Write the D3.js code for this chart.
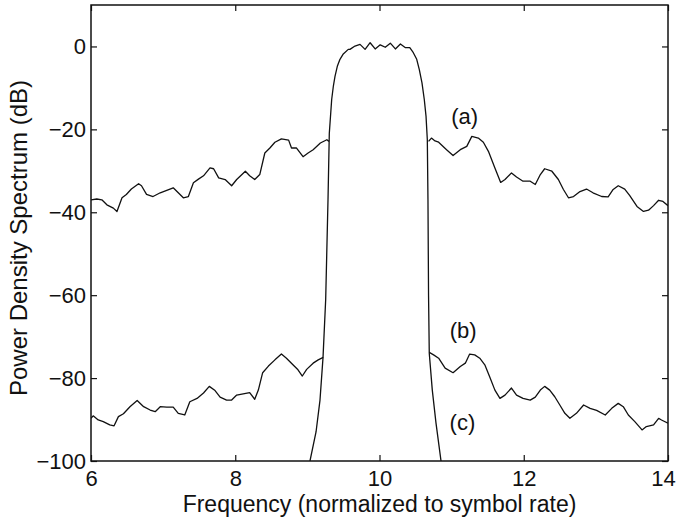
<!DOCTYPE html>
<html>
<head>
<meta charset="utf-8">
<script src="https://cdn.jsdelivr.net/npm/d3@7"></script>
<style>
  body { margin: 0; background: #fff; }
  text { font-family: "Liberation Sans", Arial, sans-serif; fill: #111; }
</style>
</head>
<body>
<svg id="chart" width="676" height="520"></svg>
<script>
// ticks
const xTicks = [6, 8, 10, 12, 14];
const yTicks = [-100, -80, -60, -40, -20, 0];

// (a) sidebands, [frequency, dB]
const aLeft = [[6.00,-37.0],[6.08,-36.8],[6.15,-37.0],[6.22,-38.2],[6.31,-39.0],[6.36,-39.8],[6.43,-36.5],[6.49,-35.7],[6.56,-34.4],[6.66,-33.1],[6.70,-33.6],[6.77,-35.7],[6.86,-36.2],[6.96,-35.3],[7.05,-34.7],[7.14,-34.1],[7.21,-35.3],[7.28,-36.5],[7.35,-36.2],[7.42,-32.9],[7.49,-32.0],[7.56,-31.2],[7.65,-29.3],[7.70,-29.5],[7.77,-31.7],[7.86,-32.1],[7.95,-33.6],[8.02,-32.1],[8.14,-30.1],[8.20,-31.2],[8.27,-32.1],[8.34,-30.9],[8.41,-25.7],[8.48,-24.5],[8.55,-23.1],[8.64,-22.3],[8.74,-22.6],[8.78,-24.5],[8.85,-24.5],[8.94,-26.6],[9.01,-25.7],[9.08,-24.9],[9.18,-23.3],[9.27,-22.5],[9.30,-22.9]];
const aRight = [[10.68,-22.9],[10.72,-22.1],[10.77,-22.8],[10.82,-23.1],[10.93,-24.9],[11.02,-26.3],[11.12,-24.9],[11.21,-24.1],[11.28,-21.7],[11.37,-22.1],[11.44,-23.1],[11.51,-25.3],[11.60,-29.3],[11.68,-32.8],[11.74,-32.1],[11.83,-30.5],[11.90,-31.5],[11.99,-32.5],[12.09,-32.5],[12.16,-33.3],[12.23,-30.9],[12.29,-29.5],[12.39,-30.1],[12.48,-32.1],[12.55,-34.5],[12.62,-36.5],[12.69,-36.2],[12.78,-35.0],[12.87,-34.4],[12.96,-35.3],[13.08,-36.2],[13.17,-36.3],[13.24,-34.5],[13.31,-33.6],[13.40,-34.4],[13.47,-36.0],[13.57,-38.6],[13.66,-39.8],[13.73,-39.5],[13.80,-38.4],[13.87,-37.1],[13.93,-37.4],[14.00,-38.4]];

// (b) sidebands
const bLeft = [[6.00,-89.7],[6.03,-89.1],[6.10,-90.1],[6.17,-90.5],[6.26,-91.3],[6.32,-91.5],[6.38,-89.3],[6.45,-88.6],[6.54,-86.9],[6.64,-85.4],[6.73,-86.9],[6.82,-87.7],[6.89,-88.1],[6.96,-86.9],[7.05,-87.0],[7.14,-87.0],[7.21,-88.5],[7.30,-88.9],[7.37,-85.7],[7.47,-84.9],[7.56,-83.6],[7.64,-82.0],[7.72,-83.0],[7.79,-84.6],[7.88,-85.3],[7.95,-85.3],[8.02,-84.1],[8.11,-83.8],[8.20,-83.5],[8.27,-85.1],[8.32,-82.9],[8.38,-78.7],[8.46,-77.1],[8.55,-75.6],[8.64,-74.2],[8.71,-75.2],[8.80,-76.8],[8.87,-78.0],[8.93,-79.5],[8.99,-77.9],[9.08,-76.4],[9.15,-75.6],[9.22,-75.0]];
const bRight = [[10.69,-73.8],[10.75,-74.4],[10.82,-75.2],[10.91,-77.6],[11.02,-78.7],[11.12,-77.2],[11.19,-76.4],[11.25,-74.2],[11.32,-74.4],[11.39,-75.2],[11.46,-76.8],[11.53,-79.8],[11.60,-82.9],[11.67,-84.9],[11.74,-84.1],[11.83,-82.4],[11.90,-84.1],[11.99,-84.9],[12.09,-85.3],[12.16,-84.6],[12.23,-82.9],[12.29,-82.0],[12.36,-82.9],[12.43,-84.5],[12.50,-86.5],[12.57,-88.5],[12.64,-89.7],[12.73,-88.5],[12.83,-86.5],[12.92,-87.3],[13.01,-87.8],[13.13,-88.9],[13.22,-87.3],[13.31,-86.1],[13.38,-86.9],[13.45,-88.9],[13.54,-90.5],[13.64,-92.5],[13.70,-91.7],[13.80,-91.3],[13.87,-89.7],[13.91,-90.1],[14.00,-90.9]];

// (c) main lobe
const cMain = [[9.036,-100],[9.12,-93.0],[9.175,-85.3],[9.217,-75.0],[9.254,-61.0],[9.286,-37.0],[9.304,-21.0],[9.337,-12.8],[9.36,-9.6],[9.383,-7.2],[9.415,-4.8],[9.452,-3.1],[9.498,-1.8],[9.567,-0.7],[9.59,-0.7],[9.66,0.1],[9.73,0.5],[9.80,-0.7],[9.87,0.9],[9.94,-0.6],[10.01,0.4],[10.08,-0.2],[10.15,0.8],[10.22,-0.6],[10.29,0.6],[10.36,-0.3],[10.42,-0.3],[10.469,-1.5],[10.516,-3.1],[10.552,-5.6],[10.589,-8.8],[10.621,-12.8],[10.645,-16.8],[10.663,-22.5],[10.672,-37.0],[10.68,-60.0],[10.69,-74.0],[10.732,-82.9],[10.783,-90.8],[10.853,-100]];

const curveLabels = [
  {text: "(a)", f: 11.18, db: -18.6},
  {text: "(b)", f: 11.16, db: -70.4},
  {text: "(c)", f: 11.15, db: -92.6}
];

const svg = d3.select("#chart");
const margin = {top: 5, right: 8, bottom: 59, left: 91};
const width = 676 - margin.left - margin.right;
const height = 520 - margin.top - margin.bottom;

const x = d3.scaleLinear().domain([6, 14]).range([0, width]);
const y = d3.scaleLinear().domain([-100, 10]).range([height, 0]);

const g = svg.append("g").attr("transform", `translate(${margin.left},${margin.top})`);

g.append("clipPath").attr("id", "clip")
  .append("rect").attr("width", width).attr("height", height);

// axes, ticks pointing inward on all four sides
const axBottom = g.append("g").attr("transform", `translate(0,${height})`)
  .call(d3.axisBottom(x).tickValues(xTicks).tickSize(-6).tickPadding(9));
const axTop = g.append("g")
  .call(d3.axisTop(x).tickValues(xTicks).tickSize(-6).tickFormat(""));
const axLeft = g.append("g")
  .call(d3.axisLeft(y).tickValues(yTicks).tickSize(-6).tickPadding(5));
const axRight = g.append("g").attr("transform", `translate(${width},0)`)
  .call(d3.axisRight(y).tickValues(yTicks).tickSize(-6).tickFormat(""));

[axBottom, axTop, axLeft, axRight].forEach(a => {
  a.select(".domain").remove();
  a.selectAll("line").attr("stroke", "#111").attr("stroke-width", 1.2);
  a.selectAll("text").style("font-size", "22px").attr("fill", "#111");
});
// last x label sits a little inside the figure edge
axBottom.selectAll(".tick text").filter(d => d === 14).attr("dx", -5);

g.append("rect")
  .attr("width", width).attr("height", height)
  .attr("fill", "none").attr("stroke", "#111").attr("stroke-width", 1.5);

const line = d3.line().x(d => x(d[0])).y(d => y(d[1]));

g.append("g").attr("clip-path", "url(#clip)")
  .selectAll("path")
  .data([aLeft, aRight, bLeft, bRight, cMain])
  .enter().append("path")
  .attr("d", line)
  .attr("fill", "none")
  .attr("stroke", "#111")
  .attr("stroke-width", 1.3)
  .attr("stroke-linejoin", "round");

g.selectAll(".clabel")
  .data(curveLabels)
  .enter().append("text")
  .attr("class", "clabel")
  .attr("x", d => x(d.f))
  .attr("y", d => y(d.db))
  .attr("text-anchor", "middle")
  .style("font-size", "22px")
  .text(d => d.text);

svg.append("text")
  .attr("x", margin.left + width / 2)
  .attr("y", 512)
  .attr("text-anchor", "middle")
  .style("font-size", "23px")
  .text("Frequency (normalized to symbol rate)");

svg.append("text")
  .attr("transform", "translate(27,238) rotate(-90)")
  .attr("text-anchor", "middle")
  .style("font-size", "24px")
  .text("Power Density Spectrum (dB)");
</script>
</body>
</html>
